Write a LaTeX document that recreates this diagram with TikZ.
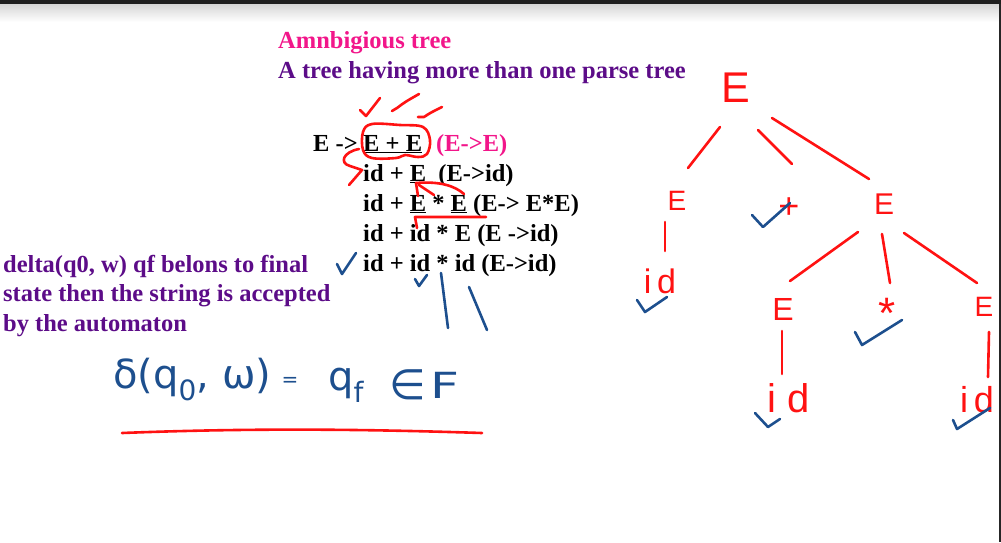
\documentclass[tikz,border=0pt]{standalone}
\usepackage{fontspec}
\setmainfont{Liberation Serif}
\newfontfamily\inkfont{Liberation Sans}
\newfontfamily\scriptink{DejaVu Sans}
\usepackage{xcolor}
\usetikzlibrary{calc}

\definecolor{titlepink}{HTML}{F2168A}
\definecolor{notepurple}{HTML}{5C0C88}
\definecolor{inkred}{HTML}{FF1212}
\definecolor{inkblue}{HTML}{1D4F8E}

\tikzset{
  slide/.style={font=\fontsize{24.5}{29}\selectfont\bfseries, inner sep=0pt, anchor=base west},
  redink/.style={draw=inkred, line width=2.6pt, line cap=round, line join=round},
  blueink/.style={draw=inkblue, line width=2.6pt, line cap=round, line join=round},
  tnode/.style={text=inkred, font=\inkfont\fontsize{#1}{#1}\selectfont, inner sep=1pt},
  formula/.style={text=inkblue, font=\scriptink\fontsize{#1}{#1}\selectfont, inner sep=0pt, anchor=base west}
}

\begin{document}
\begin{tikzpicture}[x=1pt, y=-1pt]
  \useasboundingbox (0,0) rectangle (1001,542);
  % window frame
  \fill[black!88] (0,0) rectangle (1001,4);
  \shade[top color=black!16, bottom color=white] (0,4) rectangle (1001,22);

  % slide text
  \node[slide, text=titlepink] (title) at (278,48) {Amnbigious tree};
  \node[slide, text=notepurple] (subtitle) at (278,78) {A tree having more than one parse tree};

  \node[slide] (d1a) at (313,151) {E ->};
  \node[slide] (d1b) at (363,151) {\underline{E + E}};
  \node[slide, text=titlepink] (d1c) at (436,151) {(E->E)};
  \node[slide] (d2) at (363,181) {id + \underline{E}\ \ (E->id)};
  \node[slide] (d3) at (363,211) {id + \underline{E} * \underline{E} (E-> E*E)};
  \node[slide] (d4) at (363,241) {id + id * E (E ->id)};
  \node[slide] (d5) at (363,271) {id + id * id (E->id)};

  \node[slide, text=notepurple] (note1) at (3,272) {delta(q0, w) qf belons to final};
  \node[slide, text=notepurple] (note2) at (3,301.5) {state then the string is accepted};
  \node[slide, text=notepurple] (note3) at (3,331) {by the automaton};

  % red marks on the derivation
  \draw[redink] (360,110) -- (366,116) -- (380,98);
  \draw[redink] (392,111) -- (397,108) .. controls (405,102) .. (419,94);
  \draw[redink] (418,117) -- (424,117) .. controls (430,113) .. (442,107);
  \draw[redink] plot[smooth cycle, tension=0.6] coordinates
        {(363,132) (372,124) (400,125) (423,127) (430,140) (427,154) (418,157)
         (405,155) (396,158) (372,158) (363,150)};
  \draw[redink] (359,149) .. controls (343,152) and (339,163) .. (350,166)
        -- (362,170) -- (349,185);
  \draw[redink] (416,183) -- (418,196);
  \draw[redink] (419,185) -- (434,195);
  \draw[redink] (416,183) .. controls (440,181) and (455,186) .. (464,194);
  \draw[redink] (486,217) -- (415,217) -- (417,228);

  % blue marks on the derivation
  \draw[blueink] (337,264) -- (342,274) -- (356,253);
  \draw[blueink] (415,279) -- (419,286) -- (427,275);
  \draw[blueink] (441,273) -- (448,328);
  \draw[blueink] (469,287) -- (487,330);

  % handwritten formula
  \node[formula=40] (fdelta) at (113,388) {δ(q\textsubscript{0}, ω)};
  \node[text=inkblue, font=\scriptink\fontsize{20}{20}\selectfont, inner sep=0pt] (feq) at (290,382) {=};
  \node[formula=40] (fq) at (328,390) {q\textsubscript{f}};
  \node[text=inkblue, font=\scriptink\fontsize{42}{42}\selectfont, inner sep=0pt] (fin) at (408,385) {∈};
  \node[formula=36, xscale=1.4] (fset) at (430,398) {F};
  \draw[redink] (122,433) .. controls (250,428) and (360,429) .. (482,433);

  % parse tree
  \node[tnode=43] (root) at (736,88) {E};
  \node[tnode=28] (le) at (677,201) {E};
  \node[tnode=36] (plus) at (789,208) {+};
  \node[tnode=30] (re) at (884,204) {E};
  \node[tnode=34] (lid) at (660,281) {i\,d};
  \node[tnode=32] (me) at (783,309) {E};
  \node[tnode=44] (star) at (887,313) {*};
  \node[tnode=28] (rre) at (984,307) {E};
  \node[tnode=40] (mid) at (789,398) {i\;d};
  \node[tnode=36] (rid) at (977,400) {i\,d};

  \draw[redink] ($(root)+(-16,39)$) -- ($(le)+(11,-33)$);
  \draw[redink] ($(root)+(22,42)$) -- ($(plus)+(3,-44)$);
  \draw[redink] ($(root)+(36,30)$) -- ($(re)+(-15,-25)$);
  \draw[redink] ($(le)+(-12,21)$) -- ($(lid)+(5,-30)$);
  \draw[redink] ($(re)+(-26,28)$) -- ($(me)+(7,-28)$);
  \draw[redink] ($(re)+(-2,30)$) -- ($(star)+(3,-30)$);
  \draw[redink] ($(re)+(20,29)$) -- ($(rre)+(-7,-24)$);
  \draw[redink] ($(me)+(-1,22)$) -- ($(mid)+(-7,-24)$);
  \draw[redink] ($(rre)+(5,25)$) -- ($(rid)+(11,-23)$);

  % ticks on the tree
  \draw[blueink] (637,300) -- (645,312) -- (667,297);
  \draw[blueink] (752,215) -- (763,227) -- (790,203);
  \draw[blueink] (755,413) -- (768,427) -- (780,419);
  \draw[blueink] (855,332) -- (862,345) -- (902,320);
  \draw[blueink] (953,420) -- (957,429) -- (990,408);

  \fill[black!85] (999,4) rectangle (1001,542);
\end{tikzpicture}
\end{document}
